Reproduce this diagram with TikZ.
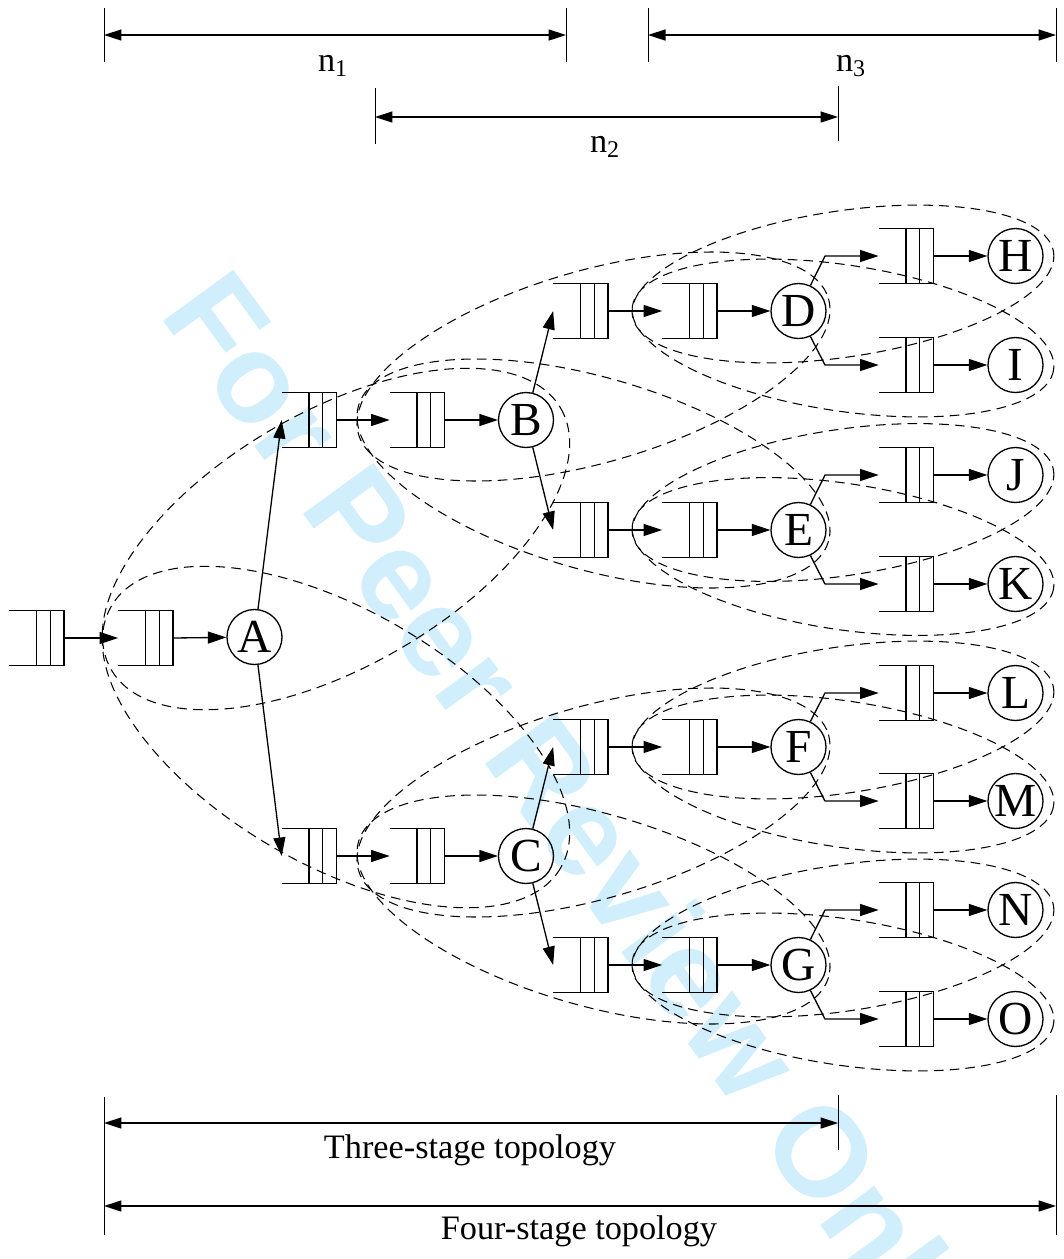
\documentclass[tikz,border=0pt]{standalone}
\usepackage{fontspec}
\setmainfont{Liberation Serif}
\newfontfamily\wmfont{Liberation Sans}
\usetikzlibrary{arrows.meta,calc,positioning}

\tikzset{
  srv/.style={circle, draw, line width=0.75pt, minimum size=1.1cm, inner sep=0pt,
    font=\fontsize{27}{27}\selectfont},
  queue/.style={minimum width=1.08cm, minimum height=1.08cm, inner sep=0pt},
  flow/.style={-{Triangle[length=3.7mm,width=2.4mm]}, line width=0.75pt},
  span/.style={{Triangle[length=3.5mm,width=2.2mm]}-{Triangle[length=3.5mm,width=2.2mm]}, line width=0.9pt},
  grp/.style={dash pattern=on 5.5pt off 3.5pt, line width=0.6pt},
  lab/.style={font=\fontsize{19.5}{20}\selectfont},
}

\newcommand{\qbox}[1]{%
  \draw[line width=0.75pt] (#1.north west) -- (#1.north east) -- (#1.south east) -- (#1.south west);
  \draw[line width=0.75pt] ($(#1.north west)!0.5!(#1.north east)$) -- ($(#1.south west)!0.5!(#1.south east)$);
  \draw[line width=0.75pt] ($(#1.north west)!0.75!(#1.north east)$) -- ($(#1.south west)!0.75!(#1.south east)$);
}

\begin{document}
\begin{tikzpicture}[x=0.02cm, y=-0.02cm]
\useasboundingbox (0,0) rectangle (1064,1259);

% watermark
\begin{scope}
\clip (0,0) rectangle (1064,1259);
\node[anchor=base west, rotate=-54, text={rgb,255:red,208;green,238;blue,251},
  font=\wmfont\bfseries\fontsize{72}{72}\selectfont, inner sep=0pt]
  (wm) at (158,314) {For Peer Review Only};
\end{scope}

% first stage
\node[queue] (q0) at (36.5,638) {};
\node[queue] (qa) at (145.5,638) {};
\node[srv] (A) at (254.5,637) {A};

% second stage
\node[queue] (qb1) at (309,420) {};
\node[queue] (qb2) at (417,420) {};
\node[srv] (B) at (526,420) {B};
\node[queue] (qc1) at (309,856) {};
\node[queue] (qc2) at (417,856) {};
\node[srv] (C) at (526,856) {C};

% third stage
\foreach \s/\y in {D/311, E/530, F/747, G/965} {
  \node[queue] (q\s1) at (580.5,\y) {};
  \node[queue] (q\s2) at (689.5,\y) {};
  \node[srv] (\s) at (798.5,\y) {\s};
}

% fourth stage
\foreach \s/\y in {H/256, I/365, J/475, K/584, L/693, M/801, N/910, O/1019} {
  \node[queue] (q\s) at (906,\y) {};
  \node[srv] (\s) at (1015.5,\y) {\s};
}

\foreach \q in {q0, qa, qb1, qb2, qc1, qc2, qD1, qD2, qE1, qE2, qF1, qF2, qG1, qG2,
  qH, qI, qJ, qK, qL, qM, qN, qO} {\qbox{\q}}

% connectors
\draw[flow] (q0.east) -- (qa.west);
\draw[flow] (qa.east) -- (A);
\draw[flow] (A) -- (qb1.west);
\draw[flow] (A) -- (qc1.west);
\draw[flow] (qb1.east) -- (qb2.west);
\draw[flow] (qc1.east) -- (qc2.west);
\draw[flow] (qb2.east) -- (B);
\draw[flow] (qc2.east) -- (C);
\draw[flow] (B) -- (qD1.west);
\draw[flow] (B) -- (qE1.west);
\draw[flow] (C) -- (qF1.west);
\draw[flow] (C) -- (qG1.west);
\foreach \s/\u/\l in {D/H/I, E/J/K, F/L/M, G/N/O} {
  \draw[flow] (q\s1.east) -- (q\s2.west);
  \draw[flow] (q\s2.east) -- (\s);
  \coordinate (\s k) at ([xshift=0.53cm]\s.center);
  \draw[flow] (\s.65) -- (\s k |- q\u.west) -- (q\u.west);
  \draw[flow] (\s.-65) -- (\s k |- q\l.west) -- (q\l.west);
  \draw[flow] (q\u.east) -- (\u);
  \draw[flow] (q\l.east) -- (\l);
}

% groups
\draw[grp] (336,539) ellipse [x radius=260, y radius=127, rotate=30.2];
\draw[grp] (336,737) ellipse [x radius=260, y radius=127, rotate=-30.2];
\foreach \y in {420, 856} {
  \draw[grp] (593.5,\y-53.5) ellipse [x radius=244.6, y radius=96, rotate=16.1];
  \draw[grp] (593.5,\y+53.5) ellipse [x radius=244.6, y radius=96, rotate=-16.1];
}
\foreach \y in {311, 529.5, 747, 965} {
  \draw[grp] (843,\y-27) ellipse [x radius=213, y radius=73, rotate=8.6];
  \draw[grp] (843,\y+27) ellipse [x radius=213, y radius=73, rotate=-8.6];
}

% spans
\coordinate (t1a) at (104,8);   \coordinate (t1b) at (104,62);
\coordinate (t2a) at (566,8);   \coordinate (t2b) at (566,62);
\coordinate (t3a) at (648,8);   \coordinate (t3b) at (648,62);
\coordinate (t4a) at (1056,8);  \coordinate (t4b) at (1056,62);
\coordinate (t5a) at (375,88);  \coordinate (t5b) at (375,144);
\coordinate (t6a) at (838,86);  \coordinate (t6b) at (838,141);
\foreach \t in {1,...,6} {
  \draw[line width=0.4pt] (t\t a) -- (t\t b);
}
\coordinate (s1a) at (104,35);  \coordinate (s1b) at (566,35);
\coordinate (s2a) at (648,35);  \coordinate (s2b) at (1056,35);
\coordinate (s3a) at (375,117); \coordinate (s3b) at (838,117);
\draw[span] (s1a) -- (s1b);
\draw[span] (s2a) -- (s2b);
\draw[span] (s3a) -- (s3b);
\node[lab] (n1) at (333,66) {n\textsubscript{1}};
\node[lab] (n3) at (851,66) {n\textsubscript{3}};
\node[lab] (n2) at (605,147) {n\textsubscript{2}};

\coordinate (b1a) at (104,1097);  \coordinate (b1b) at (104,1235);
\coordinate (b2a) at (838,1095);  \coordinate (b2b) at (838,1150);
\coordinate (b3a) at (1056,1095); \coordinate (b3b) at (1056,1235);
\foreach \t in {1,2,3} {
  \draw[line width=0.4pt] (b\t a) -- (b\t b);
}
\coordinate (s4a) at (104,1123);  \coordinate (s4b) at (838,1123);
\coordinate (s5a) at (104,1206);  \coordinate (s5b) at (1056,1206);
\draw[span] (s4a) -- (s4b);
\draw[span] (s5a) -- (s5b);
\node[lab] (three) at (470,1150) {Three-stage topology};
\node[lab] (four) at (579,1231) {Four-stage topology};
\end{tikzpicture}
\end{document}
